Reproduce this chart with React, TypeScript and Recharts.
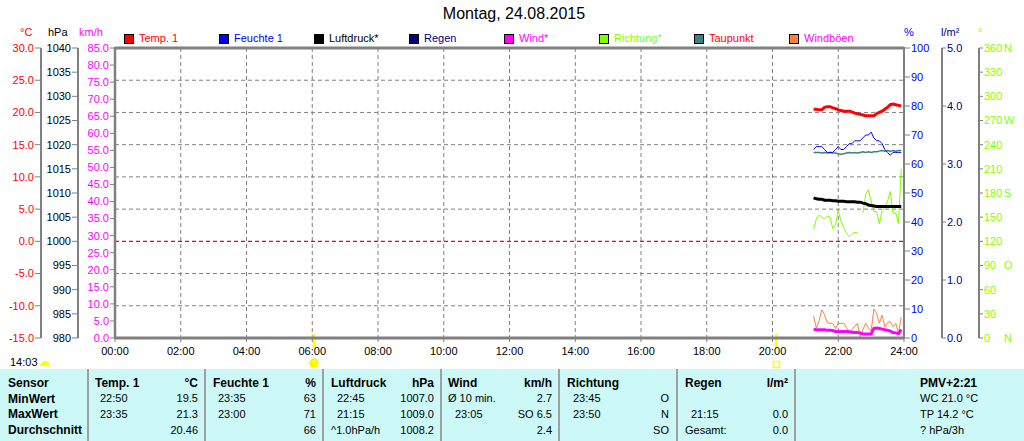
import React from 'react';
import {
  ComposedChart,
  Line,
  XAxis,
  YAxis,
  CartesianGrid,
  ReferenceLine,
  ReferenceArea,
  ReferenceDot,
} from 'recharts';

const FONT = '"Liberation Sans", Arial, Helvetica, sans-serif';

// ---------- data ----------
const times = [
  '21:15', '21:20', '21:25', '21:30', '21:35', '21:40', '21:45', '21:50', '21:55',
  '22:00', '22:05', '22:10', '22:15', '22:20', '22:25', '22:30', '22:35', '22:40', '22:45', '22:50', '22:55',
  '23:00', '23:05', '23:10', '23:15', '23:20', '23:25', '23:30', '23:35', '23:40', '23:45', '23:50', '23:55',
];
const temp1 = [20.5, 20.5, 20.4, 20.4, 20.8, 20.9, 20.9, 20.7, 20.6, 20.4, 20.3, 20.2, 20.2, 20.2, 20.1, 19.9, 19.8, 19.7, 19.6, 19.5, 19.5, 19.5, 19.5, 19.8, 20.0, 20.2, 20.5, 20.8, 21.2, 21.3, 21.2, 21.1, 21.0];
const humidity1 = [65, 66, 66, 66, 65, 64, 64, 64, 65, 66, 65, 65, 66, 67, 67, 68, 68, 68, 69, 70, 70, 71, 69, 68, 68, 67, 65, 64, 63, 64, 64, 64, 64];
const pressure = [1009.0, 1008.8, 1008.7, 1008.7, 1008.5, 1008.5, 1008.5, 1008.4, 1008.4, 1008.3, 1008.3, 1008.3, 1008.2, 1008.2, 1008.2, 1008.2, 1008.1, 1008.1, 1007.9, 1007.8, 1007.5, 1007.4, 1007.3, 1007.2, 1007.2, 1007.2, 1007.2, 1007.2, 1007.2, 1007.2, 1007.2, 1007.2, 1007.2];
const rain = [0, 0, 0, 0, 0, 0, 0, 0, 0, 0, 0, 0, 0, 0, 0, 0, 0, 0, 0, 0, 0, 0, 0, 0, 0, 0, 0, 0, 0, 0, 0, 0, 0];
const wind = [2.6, 2.4, 2.4, 2.4, 2.4, 2.3, 2.3, 2.2, 1.9, 1.9, 1.9, 1.9, 1.9, 1.8, 1.7, 1.6, 1.6, 1.5, 1.2, 1.2, 1.2, 1.2, 2.8, 2.9, 2.8, 2.6, 2.4, 2.3, 2.0, 1.6, 1.5, 1.3, 2.5];
const direction: (number | null)[] = [135, 148, 153, 150, 148, 151, 150, 136, 140, 158, 145, 137, 130, 126, 129, 131, 131, null, 155, 178, 184, 170, 157, 157, 142, 158, 162, 170, 182, 155, 155, 142, 210];
const dewPoint = [13.8, 13.8, 13.8, 13.7, 13.8, 13.7, 13.8, 13.7, 13.7, 13.6, 13.5, 13.6, 13.7, 13.8, 13.7, 13.8, 13.7, 13.8, 13.9, 13.8, 13.9, 13.8, 13.9, 13.9, 14.0, 14.1, 14.0, 14.1, 14.0, 14.1, 14.0, 14.1, 14.1];
const gusts = [6.4, 3.0, 5.0, 8.3, 6.8, 4.5, 4.3, 4.3, 2.8, 4.3, 4.3, 4.3, 3.0, 1.8, 2.4, 3.5, 4.2, 0.4, 2.4, 4.3, 3.0, 2.0, 8.5, 7.2, 4.3, 6.7, 3.3, 4.5, 4.8, 3.3, 4.3, 1.4, 6.2];

// ---------- ticks ----------
const hourTicks = [0, 2, 4, 6, 8, 10, 12, 14, 16, 18, 20, 22, 24];
const tempTicks = [-15, -10, -5, 0, 5, 10, 15, 20, 25, 30];
const tempGrid = [-10, -5, 5, 10, 15, 20, 25];
const hpaTicks = [980, 985, 990, 995, 1000, 1005, 1010, 1015, 1020, 1025, 1030, 1035, 1040];
const kmhTicks = [0, 5, 10, 15, 20, 25, 30, 35, 40, 45, 50, 55, 60, 65, 70, 75, 80, 85];
const pctTicks = [0, 10, 20, 30, 40, 50, 60, 70, 80, 90, 100];
const rainTicks = [0, 1, 2, 3, 4, 5];
const dirTicks = [0, 30, 60, 90, 120, 150, 180, 210, 240, 270, 300, 330, 360];
const dirLetters: Record<number, string> = { 0: 'N', 90: 'O', 180: 'S', 270: 'W', 360: 'N' };

const title = 'Montag, 24.08.2015';
const sunrise = '06:03';
const sunset = '20:07';
const dayLength = '14:03';

const legendItems = [
  { label: 'Temp. 1', swatch: '#ff0000', text: '#ff0000' },
  { label: 'Feuchte 1', swatch: '#0000ff', text: '#0000ff' },
  { label: 'Luftdruck*', swatch: '#000000', text: '#000000' },
  { label: 'Regen', swatch: '#000080', text: '#000080' },
  { label: 'Wind*', swatch: '#ff00ff', text: '#ff00ff' },
  { label: 'Richtung*', swatch: '#80ff00', text: '#80ff00' },
  { label: 'Taupunkt', swatch: '#408080', text: '#ff0000' },
  { label: 'Windböen', swatch: '#ff8040', text: '#ff00ff' },
];

const tableSep = [88, 205, 323, 441, 559, 677, 795];
const sensorCol = ['Sensor', 'MinWert', 'MaxWert', 'Durchschnitt'];
const tempCol = { head: 'Temp. 1', unit: '°C', times: ['22:50', '23:35', ''], vals: ['19.5', '21.3', '20.46'] };
const humCol = { head: 'Feuchte 1', unit: '%', times: ['23:35', '23:00', ''], vals: ['63', '71', '66'] };
const presCol = { head: 'Luftdruck', unit: 'hPa', times: ['22:45', '21:15', '^1.0hPa/h'], vals: ['1007.0', '1009.0', '1008.2'] };
const windCol = { head: 'Wind', unit: 'km/h', times: ['Ø 10 min.', '23:05', ''], vals: ['2.7', 'SO 6.5', '2.4'] };
const dirCol = { head: 'Richtung', unit: '', times: ['23:45', '23:50', ''], vals: ['O', 'N', 'SO'] };
const rainCol = { head: 'Regen', unit: 'l/m²', times: ['', '21:15', 'Gesamt:'], vals: ['', '0.0', '0.0'] };
const infoCol = ['PMV+2:21', 'WC 21.0 °C', 'TP 14.2 °C', '? hPa/3h'];

const toHours = (t: string) => {
  const [h, m] = t.split(':').map(Number);
  return h + m / 60;
};

const data = times.map((t, i) => ({
  h: toHours(t),
  temp: temp1[i],
  hum: humidity1[i],
  pres: pressure[i],
  rain: rain[i],
  wind: wind[i],
  dir: direction[i],
  dew: dewPoint[i],
  gust: gusts[i],
}));

const pad2 = (n: number) => String(n).padStart(2, '0');

const DirTick = (props: any) => {
  const { x, y, payload } = props;
  const v = payload.value as number;
  const letter = dirLetters[v];
  return (
    <g>
      <text x={x} y={y} dy="0.355em" fontSize={11} fill="#80ff00" textAnchor="start" fontFamily={FONT}>
        {String(v)}
      </text>
      {letter ? (
        <text x={x + 20} y={y} dy="0.355em" fontSize={11} fill="#80ff00" textAnchor="start" fontFamily={FONT}>
          {letter}
        </text>
      ) : null}
    </g>
  );
};

const SunIcon = (p: any) => {
  const { cx, cy } = p;
  const rays = [0, 45, 90, 135, 180, 225, 270, 315].map((a) => {
    const r = (a * Math.PI) / 180;
    return (
      <line
        key={a}
        x1={cx + Math.cos(r) * 4.5}
        y1={cy + Math.sin(r) * 4.5}
        x2={cx + Math.cos(r) * 6.5}
        y2={cy + Math.sin(r) * 6.5}
        stroke="#ffff80"
        strokeWidth={1.5}
      />
    );
  });
  return (
    <g>
      {rays}
      <circle cx={cx} cy={cy} r={4} fill="#ffff00" stroke="#ffe800" />
    </g>
  );
};

const SunsetIcon = (p: any) => {
  const { cx, cy } = p;
  return <rect x={cx - 3} y={cy - 3} width={6} height={6} fill="none" stroke="#ffff00" strokeWidth={1.5} />;
};

const axisStroke = '#808080';

export default function App() {
  const tick = (fill: string) => ({ fontSize: 11, fill, fontFamily: FONT });
  return (
    <div
      style={{
        position: 'absolute',
        left: 0,
        top: 0,
        width: 1024,
        height: 441,
        background: '#ffffff',
        fontFamily: FONT,
        overflow: 'hidden',
      }}
    >
      <ComposedChart
        width={1024}
        height={369}
        data={data}
        margin={{ top: 48, right: 0, bottom: 11, left: 0 }}
      >
        <CartesianGrid
          yAxisId="c_temp"
          stroke="#808080"
          strokeDasharray="4 3"
          horizontal={false}
          verticalValues={hourTicks}
        />
        <XAxis
          dataKey="h"
          type="number"
          domain={[0, 24]}
          ticks={hourTicks}
          interval={0}
          tickFormatter={(v: number) => `${pad2(v)}:00`}
          height={20}
          tick={tick('#000000')}
          tickSize={4}
          tickMargin={5}
          axisLine={{ stroke: axisStroke, strokeWidth: 3 }}
          tickLine={{ stroke: axisStroke }}
        />
        <YAxis
          yAxisId="a_kmh"
          orientation="left"
          width={37}
          domain={[0, 85]}
          ticks={kmhTicks}
          interval={0}
          tickFormatter={(v: number) => v.toFixed(1)}
          tick={tick('#ff00ff')}
          tickSize={5}
          tickMargin={1}
          axisLine={{ stroke: axisStroke, strokeWidth: 2.5 }}
          tickLine={{ stroke: axisStroke }}
        />
        <YAxis
          yAxisId="b_hpa"
          orientation="left"
          width={37}
          domain={[980, 1040]}
          ticks={hpaTicks}
          interval={0}
          tick={tick('#000000')}
          tickSize={6}
          tickMargin={1}
          axisLine={{ stroke: axisStroke, strokeWidth: 2 }}
          tickLine={{ stroke: axisStroke }}
        />
        <YAxis
          yAxisId="c_temp"
          orientation="left"
          width={41}
          domain={[-15, 30]}
          ticks={tempTicks}
          interval={0}
          tickFormatter={(v: number) => v.toFixed(1)}
          tick={tick('#ff0000')}
          tickSize={6}
          tickMargin={1}
          axisLine={{ stroke: axisStroke, strokeWidth: 2 }}
          tickLine={{ stroke: axisStroke }}
        />
        <YAxis
          yAxisId="a_pct"
          orientation="right"
          width={38}
          domain={[0, 100]}
          ticks={pctTicks}
          interval={0}
          tick={tick('#0000ff')}
          tickSize={6}
          tickMargin={1}
          axisLine={{ stroke: axisStroke, strokeWidth: 2 }}
          tickLine={{ stroke: axisStroke }}
        />
        <YAxis
          yAxisId="b_rain"
          orientation="right"
          width={37}
          domain={[0, 5]}
          ticks={rainTicks}
          interval={0}
          tickFormatter={(v: number) => v.toFixed(1)}
          tick={tick('#000080')}
          tickSize={4}
          tickMargin={1}
          axisLine={{ stroke: axisStroke, strokeWidth: 2 }}
          tickLine={{ stroke: axisStroke }}
        />
        <YAxis
          yAxisId="c_dir"
          orientation="right"
          width={45}
          domain={[0, 360]}
          ticks={dirTicks}
          interval={0}
          tick={<DirTick />}
          tickSize={4}
          tickMargin={1}
          axisLine={{ stroke: axisStroke, strokeWidth: 2 }}
          tickLine={{ stroke: axisStroke }}
        />

        {tempGrid.map((v) => (
          <ReferenceLine key={'g' + v} yAxisId="c_temp" y={v} stroke="#808080" strokeDasharray="4 3" />
        ))}
        <ReferenceLine yAxisId="c_temp" y={0} stroke="#ff0000" strokeWidth={1.2} strokeDasharray="4 3" />
        <ReferenceArea
          yAxisId="c_temp"
          x1={0}
          x2={24}
          y1={-15}
          y2={30}
          fill="none"
          fillOpacity={0}
          stroke={axisStroke}
          strokeWidth={2}
          ifOverflow="visible"
        />
        <ReferenceLine yAxisId="c_temp" y={30} stroke={axisStroke} strokeWidth={3} ifOverflow="visible" />

        <Line yAxisId="b_rain" dataKey="rain" stroke="#000080" strokeWidth={1} dot={false} isAnimationActive={false} />
        <Line yAxisId="a_kmh" dataKey="gust" stroke="#ff8040" strokeWidth={1} dot={false} isAnimationActive={false} />
        <Line yAxisId="c_dir" dataKey="dir" stroke="#80ff00" strokeWidth={1} dot={false} isAnimationActive={false} />
        <Line yAxisId="c_temp" dataKey="dew" stroke="#408080" strokeWidth={1.5} dot={false} isAnimationActive={false} />
        <Line yAxisId="a_pct" dataKey="hum" stroke="#0000ff" strokeWidth={1} dot={false} isAnimationActive={false} />
        <Line yAxisId="a_kmh" dataKey="wind" stroke="#ff00ff" strokeWidth={3} dot={false} isAnimationActive={false} />
        <Line yAxisId="b_hpa" dataKey="pres" stroke="#000000" strokeWidth={3} dot={false} isAnimationActive={false} />
        <Line yAxisId="c_temp" dataKey="temp" stroke="#ff0000" strokeWidth={3} dot={false} isAnimationActive={false} />

        <ReferenceLine
          yAxisId="c_temp"
          segment={[
            { x: toHours(sunrise), y: -14.4 },
            { x: toHours(sunrise), y: -16.6 },
          ]}
          stroke="#ffff00"
          strokeWidth={2.5}
          ifOverflow="visible"
        />
        <ReferenceLine
          yAxisId="c_temp"
          segment={[
            { x: toHours(sunset), y: -14.4 },
            { x: toHours(sunset), y: -16.6 },
          ]}
          stroke="#ffff00"
          strokeWidth={2.5}
          ifOverflow="visible"
        />
        <ReferenceDot yAxisId="c_temp" x={toHours(sunrise)} y={-18.9} ifOverflow="visible" shape={<SunIcon />} />
        <ReferenceDot yAxisId="c_temp" x={toHours(sunset)} y={-19.1} ifOverflow="visible" shape={<SunsetIcon />} />
      </ComposedChart>

      {/* title */}
      <div style={{ position: 'absolute', left: 0, width: 1028, top: 6, textAlign: 'center', fontSize: 16, lineHeight: '16px', color: '#000' }}>
        {title}
      </div>

      {/* unit labels */}
      {[
        { t: '°C', x: 20, c: '#ff0000' },
        { t: 'hPa', x: 48, c: '#000000' },
        { t: 'km/h', x: 79, c: '#ff00ff' },
        { t: '%', x: 904, c: '#0000ff' },
        { t: 'l/m²', x: 941, c: '#000080' },
        { t: '°', x: 978, c: '#80ff00' },
      ].map((u) => (
        <div key={u.t} style={{ position: 'absolute', left: u.x, top: 27, fontSize: 11, lineHeight: '11px', color: u.c, whiteSpace: 'nowrap' }}>
          {u.t}
        </div>
      ))}

      {/* legend */}
      {legendItems.map((it, i) => (
        <div key={it.label} style={{ position: 'absolute', left: 124 + i * 95, top: 33, height: 11, display: 'flex', alignItems: 'center', whiteSpace: 'nowrap' }}>
          <div style={{ width: 8, height: 8, background: it.swatch, border: '1px solid #000' }} />
          <span style={{ marginLeft: 5, fontSize: 11, lineHeight: '11px', color: it.text }}>{it.label}</span>
        </div>
      ))}

      {/* day length */}
      <div style={{ position: 'absolute', left: 10, top: 357, fontSize: 11, lineHeight: '11px', color: '#000' }}>{dayLength}</div>
      <svg style={{ position: 'absolute', left: 39, top: 358 }} width={12} height={9}>
        <path d="M1,8 A5,5 0 0 1 11,8 Z" fill="#ffff00" />
      </svg>

      {/* table */}
      <div style={{ position: 'absolute', left: 0, top: 369, width: 1024, height: 72, background: '#ccf8f8', color: '#000' }}>
        {tableSep.map((x) => (
          <div key={x} style={{ position: 'absolute', left: x - 1, top: 0, width: 2, height: 72, background: '#a0a0a0' }} />
        ))}
        {sensorCol.map((s, r) => (
          <div key={s} style={{ position: 'absolute', left: 8, top: 8 + r * 15.7, fontSize: 12, lineHeight: '12px', fontWeight: 'bold' }}>
            {s}
          </div>
        ))}
        {[
          { c: tempCol, l: 95, tl: 100, r: 198 },
          { c: humCol, l: 213, tl: 218, r: 316 },
          { c: presCol, l: 331, tl: 337, r: 434 },
          { c: windCol, l: 448, tl: 455, r: 552 },
          { c: dirCol, l: 567, tl: 573, r: 669 },
          { c: rainCol, l: 685, tl: 691, r: 788 },
        ].map(({ c, l, tl, r }) => (
          <React.Fragment key={c.head}>
            <div style={{ position: 'absolute', left: l, top: 8, fontSize: 12, lineHeight: '12px', fontWeight: 'bold', whiteSpace: 'nowrap' }}>{c.head}</div>
            <div style={{ position: 'absolute', right: 1024 - r, top: 8, fontSize: 12, lineHeight: '12px', fontWeight: 'bold', whiteSpace: 'nowrap' }}>{c.unit}</div>
            {c.times.map((t, i) => {
              const left = t.startsWith('Ø') || t.startsWith('^') || t.startsWith('Gesamt') ? l : tl;
              return (
                <div key={'t' + i} style={{ position: 'absolute', left, top: 8.5 + (i + 1) * 15.7, fontSize: 11, lineHeight: '11px', whiteSpace: 'nowrap' }}>{t}</div>
              );
            })}
            {c.vals.map((v, i) => (
              <div key={'v' + i} style={{ position: 'absolute', right: 1024 - r, top: 8.5 + (i + 1) * 15.7, fontSize: 11, lineHeight: '11px', whiteSpace: 'nowrap' }}>{v}</div>
            ))}
          </React.Fragment>
        ))}
        {infoCol.map((s, r) => (
          <div
            key={s}
            style={{
              position: 'absolute',
              left: 920,
              top: r === 0 ? 8 : 8.5 + r * 15.7,
              fontSize: r === 0 ? 12 : 11,
              lineHeight: r === 0 ? '12px' : '11px',
              fontWeight: r === 0 ? 'bold' : 'normal',
              whiteSpace: 'nowrap',
            }}
          >
            {s}
          </div>
        ))}
      </div>
    </div>
  );
}
